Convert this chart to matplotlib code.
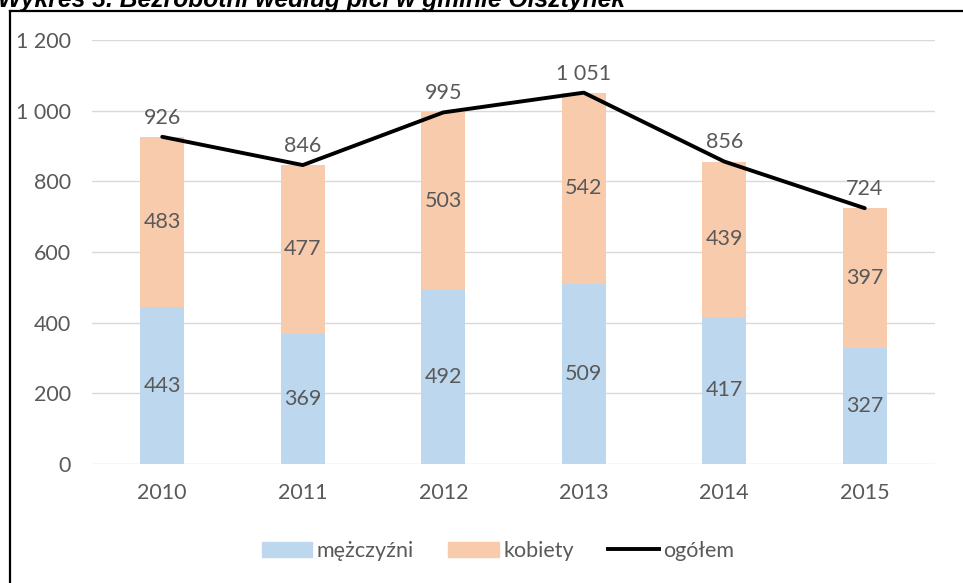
import matplotlib
matplotlib.use("Agg")
import matplotlib.pyplot as plt
from matplotlib.lines import Line2D
from matplotlib.patches import Patch
import numpy as np

years = ["2010", "2011", "2012", "2013", "2014", "2015"]
men = [443, 369, 492, 509, 417, 327]
women = [483, 477, 503, 542, 439, 397]
total = [926, 846, 995, 1051, 856, 724]
yticks = [0, 200, 400, 600, 800, 1000, 1200]
ytick_labels = ["0", "200", "400", "600", "800", "1 000", "1 200"]
title = "Wykres 3. Bezrobotni według płci w gminie Olsztynek"

def fmt(v):
    return f"{v:,}".replace(",", " ")

plt.rcParams['font.family'] = ['Lato', 'DejaVu Sans']
txt = "#595959"
fs = 15.5
fig = plt.figure(figsize=(9.63, 5.83), dpi=100)
ax = fig.add_axes([92/963, 1-464/583, (935-92)/963, (464-40)/583])

x = np.arange(len(years))
w = 0.31
ax.bar(x, men, w, color="#BDD7EE", zorder=2)
ax.bar(x, women, w, bottom=men, color="#F8CBAD", zorder=2)
ax.plot(x, total, color="black", lw=2.8, zorder=3, solid_capstyle='round')

for i in range(len(years)):
    ax.text(x[i], men[i]/2, fmt(men[i]), ha="center", va="center", fontsize=fs, color=txt, zorder=4)
    ax.text(x[i], men[i] + women[i]/2, fmt(women[i]), ha="center", va="center", fontsize=fs, color=txt, zorder=4)
    ax.text(x[i], total[i] + 54, fmt(total[i]), ha="center", va="center", fontsize=fs, color=txt, zorder=4)

ax.set_xlim(-0.5, len(years) - 0.5)
ax.set_ylim(0, 1200)
ax.set_yticks(yticks)
ax.set_yticklabels(ytick_labels)
ax.set_xticks(x)
ax.set_xticklabels(years)
ax.tick_params(axis="both", length=0, labelsize=fs, colors=txt)
ax.tick_params(axis="y", pad=15)
ax.tick_params(axis="x", pad=14)
ax.yaxis.grid(True, color="#D9D9D9", lw=1, zorder=0)
ax.set_axisbelow(True)
for s in ax.spines.values():
    s.set_visible(False)

handles = [Patch(color="#BDD7EE"), Patch(color="#F8CBAD"), Line2D([0], [0], color="black", lw=2.8)]
fig.legend(handles, ["mężczyźni", "kobiety", "ogółem"], loc="center", bbox_to_anchor=(0.517, 1-551/583),
           ncol=3, frameon=False, fontsize=fs, labelcolor=txt, handlelength=2.35, handleheight=0.75,
           handletextpad=0.2, columnspacing=1.6)

fig.add_artist(Line2D([10/963, 10/963], [0, 1-11/583], color="black", lw=1.6, transform=fig.transFigure))
fig.add_artist(Line2D([10/963, 1], [1-11/583, 1-11/583], color="black", lw=1.6, transform=fig.transFigure))
fig.text(-0.002, 1-7/583, title, fontsize=17.7, fontweight="bold", fontstyle="italic",
         family=["Liberation Sans", "DejaVu Sans"], va="baseline", ha="left", color="black")

fig.savefig("out.png", dpi=100)
